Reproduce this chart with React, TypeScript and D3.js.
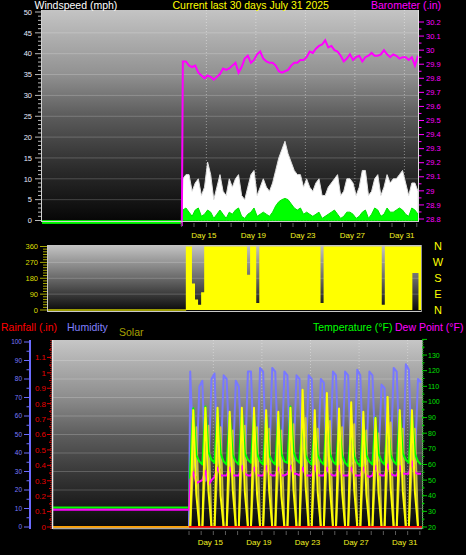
import React, { useRef, useEffect } from 'react';
import * as d3 from 'd3';

type Pt = [number, number];

const WIDTH = 466;
const HEIGHT = 555;
const FONT = "'Liberation Sans', Arial, sans-serif";

// x axis is the fractional day of July across the 30 day window
const DAY_DOMAIN: [number, number] = [1.72, 32.18];
const DATA_START = 13.0; // station data begins here, flat lines before it
const FIRST_SAMPLE = 13.1;
const SAMPLE_STEP = 0.25; // one reading every 6 hours
const DAY_LABELS = [15, 19, 23, 27, 31];
const DAY_TICKS = [13, 14, 15, 16, 17, 18, 19, 20, 21, 22, 23, 24, 25, 26, 27, 28, 29, 30, 31, 32];

// tick labels
const WIND_TICKS = [0, 5, 10, 15, 20, 25, 30, 35, 40, 45, 50];
const BARO_TICKS = [28.8, 28.9, 29, 29.1, 29.2, 29.3, 29.4, 29.5, 29.6, 29.7, 29.8, 29.9, 30, 30.1, 30.2];
const DIR_TICKS = [0, 90, 180, 270, 360];
const COMPASS = ['N', 'E', 'S', 'W', 'N'];
const HUM_TICKS = [0, 10, 20, 30, 40, 50, 60, 70, 80, 90, 100];
const RAIN_TICKS = [0, 0.1, 0.2, 0.3, 0.4, 0.5, 0.6, 0.7, 0.8, 0.9, 1, 1.1];
const TEMP_TICKS = [20, 30, 40, 50, 60, 70, 80, 90, 100, 110, 120, 130];

// values drawn before the data starts
const IDLE_GUST = 0;
const IDLE_AVG = -0.7;
const IDLE_BARO = 28.5;
const IDLE_HUM = 0;
const IDLE_TEMP = 32.5;
const IDLE_DEW = 31;
const IDLE_SOLAR = 0;

// wind gust (mph), 6-hourly
const GUST = [
  10, 11, 11, 7, 9, 10, 6, 8, 14, 11,
  5, 8, 11, 7, 6, 10, 8, 10, 11, 6,
  5, 8, 11, 12, 6, 8, 10, 8, 7, 9,
  12, 15, 17, 19, 16, 14, 12, 11, 11, 8,
  10, 8, 7, 9, 10, 6, 6, 8, 9, 10,
  11, 6, 7, 10, 10, 9, 6, 8, 12, 12,
  6, 7, 10, 11, 6, 8, 11, 9, 10, 10,
  11, 12, 9, 6, 9, 9, 7,
];

// average wind (mph)
const WIND_AVG = [
  2.5, 3, 2, 1, 2.5, 3, 1, 1.5, 2.5, 2,
  0.5, 1.5, 2.5, 1.5, 0.5, 2, 1.5, 2.5, 3, 1,
  0.5, 1.5, 2, 3, 1, 1.5, 2, 1.5, 1, 2,
  3.5, 4.5, 5, 5.3, 5, 4, 3, 2.5, 3, 1.5,
  2, 1.5, 1, 1.5, 2, 0.5, 1, 1.5, 2, 2.5,
  1.5, 0.5, 1, 2, 2, 1.5, 0.5, 1, 2, 2.5,
  0.5, 1.5, 3, 2.5, 1, 1.5, 3, 2, 2, 2.5,
  3, 2.5, 1.5, 1, 3, 2.5, 1.5,
];

// barometer (in)
const BARO = [
  29.92, 29.92, 29.89, 29.88, 29.89, 29.84, 29.82, 29.80, 29.82, 29.81,
  29.79, 29.81, 29.83, 29.87, 29.86, 29.87, 29.89, 29.91, 29.84, 29.88,
  29.94, 29.96, 29.91, 29.93, 29.97, 29.99, 29.94, 29.92, 29.91, 29.91,
  29.89, 29.85, 29.84, 29.85, 29.86, 29.89, 29.91, 29.91, 29.93, 29.93,
  29.95, 29.99, 29.98, 30.01, 30.03, 30.04, 30.07, 30.02, 30.03, 30.00,
  29.99, 29.96, 29.92, 29.94, 29.97, 29.93, 29.95, 29.96, 29.92, 29.95,
  29.96, 29.98, 29.96, 29.96, 29.97, 30.00, 29.97, 29.95, 29.97, 29.96,
  29.94, 29.95, 29.95, 29.93, 29.95, 29.89, 29.96,
];

// wind direction range seen in each 6 hour bin (degrees)
const DIR_LOW = [
  0, 0, 0, 0, 0, 0, 0, 0, 0, 0,
  0, 0, 0, 0, 0, 0, 0, 0, 0, 0,
  0, 0, 0, 0, 0, 0, 0, 0, 0, 0,
  0, 0, 0, 0, 0, 0, 0, 0, 0, 0,
  0, 0, 0, 0, 0, 0, 0, 0, 0, 0,
  0, 0, 0, 0, 0, 0, 0, 0, 0, 0,
  0, 0, 0, 0, 0, 0, 0, 0, 0, 0,
  0, 0, 0, 0, 210, 210, 0,
];
const DIR_HIGH = [
  360, 360, 150, 60, 30, 100, 360, 360, 360, 360,
  360, 360, 360, 360, 360, 360, 360, 360, 360, 360,
  200, 360, 360, 40, 360, 360, 360, 360, 360, 360,
  360, 360, 360, 360, 360, 360, 360, 360, 360, 360,
  360, 360, 360, 360, 40, 360, 360, 360, 360, 360,
  360, 360, 360, 360, 360, 360, 360, 360, 360, 360,
  360, 360, 360, 360, 30, 360, 360, 360, 360, 360,
  360, 360, 360, 360, 360, 360, 360,
];

// humidity (%)
const HUMIDITY = [
  84, 40, 28, 76, 79, 25, 30, 80, 83, 38,
  32, 82, 80, 36, 30, 79, 76, 35, 32, 84,
  84, 38, 33, 86, 84, 38, 34, 86, 84, 36,
  32, 84, 82, 34, 36, 82, 80, 32, 30, 82,
  80, 35, 33, 80, 78, 30, 32, 84, 82, 36,
  34, 84, 82, 34, 35, 85, 82, 36, 34, 84,
  82, 38, 36, 77, 75, 32, 34, 86, 84, 34,
  32, 88, 85, 33, 35, 80, 78,
];

// temperature (F)
const TEMP = [
  58, 96, 66, 62, 60, 97, 68, 63, 61, 95,
  67, 62, 60, 92, 66, 62, 60, 95, 67, 63,
  61, 93, 67, 62, 60, 92, 66, 62, 60, 92,
  67, 62, 61, 97, 68, 63, 61, 88, 66, 62,
  60, 86, 66, 62, 60, 94, 67, 62, 60, 86,
  66, 61, 59, 83, 65, 61, 59, 88, 66, 62,
  60, 90, 67, 62, 60, 88, 66, 62, 60, 94,
  67, 63, 61, 93, 67, 62, 60,
];

// dew point (F)
const DEW = [
  50, 55, 48, 49, 50, 56, 47, 50, 52, 58,
  53, 53, 53, 58, 53, 53, 53, 59, 54, 53,
  53, 58, 53, 53, 53, 59, 54, 53, 53, 58,
  53, 53, 54, 59, 54, 54, 53, 58, 53, 53,
  53, 59, 53, 53, 53, 58, 54, 53, 53, 59,
  53, 53, 53, 58, 53, 53, 53, 58, 53, 52,
  53, 59, 54, 53, 53, 60, 54, 53, 53, 59,
  54, 54, 54, 62, 55, 54, 54,
];

// solar radiation (W/m2), bright yellow trace
const SOLAR = [
  0, 750, 210, 0, 0, 765, 230, 0, 0, 765,
  200, 0, 0, 740, 240, 0, 0, 765, 220, 0,
  0, 765, 210, 0, 0, 750, 230, 0, 0, 740,
  200, 0, 0, 765, 240, 0, 0, 880, 260, 0,
  0, 750, 220, 0, 0, 860, 250, 0, 0, 760,
  230, 0, 0, 800, 240, 0, 0, 740, 210, 0,
  0, 700, 220, 0, 0, 835, 250, 0, 0, 750,
  230, 0, 0, 750, 220, 0, 0,
];

// solar, olive trace
const SOLAR_AVG = [
  0, 420, 640, 0, 0, 430, 650, 0, 0, 420,
  640, 0, 0, 400, 620, 0, 0, 430, 650, 0,
  0, 420, 640, 0, 0, 410, 630, 0, 0, 400,
  620, 0, 0, 430, 660, 0, 0, 470, 700, 0,
  0, 410, 630, 0, 0, 450, 680, 0, 0, 420,
  640, 0, 0, 440, 660, 0, 0, 400, 620, 0,
  0, 390, 600, 0, 0, 450, 670, 0, 0, 410,
  630, 0, 0, 410, 630, 0, 0,
];

// daily rainfall (in), July 13 onwards
const RAIN_DAILY = [0, 0, 0, 0, 0, 0, 0, 0, 0, 0, 0, 0, 0, 0, 0, 0, 0, 0, 0, 0, 0];

interface DirBin { t: number; lo: number; hi: number; }

const App: React.FC = () => {
  const svgRef = useRef<SVGSVGElement>(null);

  useEffect(() => {
    if (!svgRef.current) return;
    const svg = d3.select(svgRef.current);
    svg.selectAll('*').remove();

    svg.append('rect').attr('width', WIDTH).attr('height', HEIGHT).attr('fill', '#000');
    const defs = svg.append('defs');

    const gradient = (id: string, stops: [number, string][]) => {
      const g = defs.append('linearGradient').attr('id', id)
        .attr('x1', 0).attr('y1', 0).attr('x2', 0).attr('y2', 1);
      stops.forEach(([o, c]) => g.append('stop').attr('offset', o).attr('stop-color', c));
    };
    const clip = (id: string, x: number, y: number, w: number, h: number) => {
      defs.append('clipPath').attr('id', id).append('rect')
        .attr('x', x).attr('y', y).attr('width', w).attr('height', h);
    };
    const label = (x: number, y: number, str: string, color: string, size: number, anchor = 'start', dy = '0') =>
      svg.append('text')
        .attr('x', x).attr('y', y).attr('dy', dy)
        .attr('fill', color).attr('font-size', size).attr('font-family', FONT)
        .attr('text-anchor', anchor).text(str);
    const hline = (x1: number, x2: number, y: number, color: string, opacity = 1, width = 1) =>
      svg.append('line').attr('x1', x1).attr('x2', x2).attr('y1', y).attr('y2', y)
        .attr('stroke', color).attr('stroke-opacity', opacity).attr('stroke-width', width);
    const vline = (x: number, y1: number, y2: number, color: string, opacity = 1, width = 1, dash = '') =>
      svg.append('line').attr('x1', x).attr('x2', x).attr('y1', y1).attr('y2', y2)
        .attr('stroke', color).attr('stroke-opacity', opacity).attr('stroke-width', width)
        .attr('stroke-dasharray', dash || null);

    const series = (values: number[], idle: number): Pt[] => [
      [DAY_DOMAIN[0], idle],
      [DATA_START, idle],
      ...values.map((v, i): Pt => [FIRST_SAMPLE + i * SAMPLE_STEP, v]),
    ];

    gradient('gTop', [[0, '#c4c4c4'], [0.3, '#929292'], [0.5, '#5c5c5c'], [0.75, '#2c2c2c'], [1, '#060606']]);
    gradient('gMid', [[0, '#c4c4c4'], [0.5, '#6a6a6a'], [1, '#0a0a0a']]);
    gradient('gBot', [[0, '#c6c6c6'], [0.3, '#8e8e8e'], [0.5, '#5e5e5e'], [0.72, '#363636'], [1, '#080808']]);

    // ---------------- top panel: wind speed + barometer ----------------
    const top = { x0: 42, x1: 419, y0: 10, y1: 221 };
    const xTop = d3.scaleLinear().domain(DAY_DOMAIN).range([top.x0, top.x1]);
    const yWind = d3.scaleLinear().domain([0, 50]).range([220.5, 12]);
    const yBaro = d3.scaleLinear().domain([28.8, 30.2]).range([219, 22]);
    clip('cTop', top.x0, top.y0, top.x1 - top.x0, 226 - top.y0);

    svg.append('rect').attr('x', top.x0).attr('y', top.y0)
      .attr('width', top.x1 - top.x0).attr('height', top.y1 - top.y0).attr('fill', 'url(#gTop)');
    WIND_TICKS.filter(v => v > 0 && v < 50).forEach(v => hline(top.x0, top.x1, yWind(v), '#fff', 0.2));
    DAY_LABELS.forEach(d => vline(xTop(d), top.y0, top.y1, '#fff', 0.4, 1, '1,2'));

    const gTop = svg.append('g').attr('clip-path', 'url(#cTop)');
    const windArea = d3.area<Pt>().x(d => xTop(d[0])).y0(yWind(0)).y1(d => yWind(d[1]));
    gTop.append('path').datum(series(GUST, IDLE_GUST)).attr('d', windArea)
      .attr('fill', '#fff').attr('stroke', '#e0e0e0').attr('stroke-width', 1);
    gTop.append('path').datum(series(WIND_AVG, IDLE_AVG)).attr('d', windArea)
      .attr('fill', '#00ff00').attr('stroke', '#00e000').attr('stroke-width', 1);
    const baroLine = d3.line<Pt>().x(d => xTop(d[0])).y(d => yBaro(d[1]));
    gTop.append('path').datum(series(BARO, IDLE_BARO)).attr('d', baroLine)
      .attr('fill', 'none').attr('stroke', '#ff00ff').attr('stroke-width', 2);

    vline(top.x0 - 0.5, top.y0, top.y1 + 1, '#d0d0d0');
    vline(top.x1 - 0.5, top.y0, top.y1 + 1, '#e0e0e0');
    hline(top.x0, top.x1, top.y1 + 0.5, '#d0d0d0');

    d3.range(0, 51, 1).forEach(v => {
      const major = v % 5 === 0;
      svg.append('line').attr('x1', major ? 35 : 38).attr('x2', 41)
        .attr('y1', yWind(v)).attr('y2', yWind(v)).attr('stroke', '#b8b8b8');
    });
    WIND_TICKS.forEach(v => label(32, yWind(v), String(v), '#e6ebff', 7.5, 'end', '0.36em'));

    d3.range(28.8, 30.21, 0.05).forEach((v, i) => {
      svg.append('line').attr('x1', 419).attr('x2', i % 2 === 0 ? 424 : 421.5)
        .attr('y1', yBaro(v)).attr('y2', yBaro(v)).attr('stroke', '#ff00ff');
    });
    BARO_TICKS.forEach(v => label(426, yBaro(v), String(v), '#ff00ff', 7.5, 'start', '0.36em'));

    DAY_TICKS.forEach(d => vline(xTop(d), 223, 227, '#5a5a5a'));
    DAY_LABELS.forEach(d => label(xTop(d) - 2.5, 238, `Day ${d}`, '#f0f020', 8, 'middle'));

    label(34.5, 9.3, 'Windspeed (mph)', '#ffffff', 10.5);
    label(172.5, 9.3, 'Current last 30 days July 31 2025', '#ffff00', 10.5);
    label(371, 9.3, 'Barometer (.in)', '#ff00ff', 10.5);

    // ---------------- middle panel: wind direction ----------------
    const mid = { x0: 48, x1: 421, y0: 245, y1: 311 };
    const xMid = d3.scaleLinear().domain(DAY_DOMAIN).range([mid.x0, mid.x1]);
    const yDir = d3.scaleLinear().domain([0, 360]).range([310, 246.5]);
    clip('cMid', mid.x0, mid.y0, mid.x1 - mid.x0, mid.y1 - mid.y0);

    svg.append('rect').attr('x', mid.x0).attr('y', mid.y0)
      .attr('width', mid.x1 - mid.x0).attr('height', mid.y1 - mid.y0).attr('fill', 'url(#gMid)');
    [90, 180, 270].forEach(v => hline(mid.x0, mid.x1, yDir(v), '#fff', 0.2));

    const gMid = svg.append('g').attr('clip-path', 'url(#cMid)');
    gMid.append('line')
      .attr('x1', xMid(DAY_DOMAIN[0])).attr('x2', xMid(DATA_START))
      .attr('y1', yDir(0)).attr('y2', yDir(0))
      .attr('stroke', '#c8c800').attr('stroke-width', 1.5);

    // each bin spans half a step either side of its sample time
    const bins: DirBin[] = DIR_HIGH.map((hi, i) => ({
      t: FIRST_SAMPLE + i * SAMPLE_STEP - SAMPLE_STEP / 2, lo: DIR_LOW[i], hi,
    }));
    const last = bins[bins.length - 1];
    bins.push({ ...last, t: last.t + SAMPLE_STEP });
    const dirArea = d3.area<DirBin>()
      .curve(d3.curveStepAfter)
      .x(d => xMid(d.t))
      .y0(d => yDir(d.lo))
      .y1(d => yDir(d.hi));
    gMid.append('path').datum(bins).attr('d', dirArea).attr('fill', '#ffff00');

    vline(mid.x0 - 0.5, mid.y0, mid.y1 + 1, '#c8c8c8');
    vline(mid.x1 + 0.5, mid.y0, mid.y1 + 1, '#909090');
    hline(mid.x0, mid.x1, mid.y1 + 0.5, '#c8c8c8');

    d3.range(0, 361, 15).forEach(v => {
      const major = v % 90 === 0;
      svg.append('line').attr('x1', major ? 40 : 43).attr('x2', 47)
        .attr('y1', yDir(v)).attr('y2', yDir(v)).attr('stroke', '#a8a800');
    });
    DIR_TICKS.forEach(v => label(38, yDir(v), String(v), '#dede00', 7.5, 'end', '0.36em'));
    DIR_TICKS.forEach((v, i) => label(438, yDir(v), COMPASS[i], '#ffff00', 11, 'middle', '0.36em'));

    // ---------------- bottom panel: rain, humidity, solar, temp, dew ----------------
    const bot = { x0: 53, x1: 422, y0: 340, y1: 528 };
    const xBot = d3.scaleLinear().domain(DAY_DOMAIN).range([52, 422]);
    const yHum = d3.scaleLinear().domain([0, 100]).range([527, 342]);
    const yRain = d3.scaleLinear().domain([0, 1.2]).range([527, 342]);
    const yTemp = d3.scaleLinear().domain([20, 140]).range([527, 339.4]);
    const ySolar = d3.scaleLinear().domain([0, 1200]).range([527, 340]);
    clip('cBot', bot.x0, bot.y0, bot.x1 - bot.x0, 530 - bot.y0);

    svg.append('rect').attr('x', bot.x0).attr('y', bot.y0)
      .attr('width', bot.x1 - bot.x0).attr('height', bot.y1 - bot.y0).attr('fill', 'url(#gBot)');
    HUM_TICKS.filter(v => v > 0 && v < 100).forEach(v => hline(bot.x0, bot.x1, yHum(v), '#fff', 0.2));
    DAY_LABELS.forEach(d => vline(xBot(d), bot.y0, bot.y1, '#fff', 0.35, 1, '1,2'));

    const gBot = svg.append('g').attr('clip-path', 'url(#cBot)');
    const path = (data: Pt[], y: d3.ScaleLinear<number, number>, color: string, width = 2) =>
      gBot.append('path').datum(data)
        .attr('d', d3.line<Pt>().x(d => xBot(d[0])).y(d => y(d[1])))
        .attr('fill', 'none').attr('stroke', color).attr('stroke-width', width)
        .attr('stroke-linejoin', 'round');

    path(series(HUMIDITY, IDLE_HUM), yHum, '#7878ff');
    path(series(SOLAR_AVG, IDLE_SOLAR), ySolar, '#c8c040');
    path(series(TEMP, IDLE_TEMP), yTemp, '#00ff00');
    path(series(DEW, IDLE_DEW), yTemp, '#ff00ff');
    path(series(SOLAR, IDLE_SOLAR), ySolar, '#ffff00');
    path([[DAY_DOMAIN[0], RAIN_DAILY[0]], [DATA_START, RAIN_DAILY[0]]], yRain, '#ffa000');
    path(RAIN_DAILY.map((v, i): Pt => [DATA_START + i, v]), yRain, '#ff0000');

    vline(bot.x0 - 0.5, bot.y0, bot.y1 + 1, '#e8e8e8', 1, 1.5);
    vline(bot.x1 + 0.5, bot.y0, bot.y1 + 1, '#909090');
    hline(bot.x0, bot.x1, bot.y1 + 0.5, '#a8a8a8', 1, 1.5);

    // humidity axis (blue)
    vline(30, 340, 529, '#6c6cff', 1, 2);
    d3.range(0, 101, 5).forEach(v => {
      svg.append('line').attr('x1', v % 10 === 0 ? 24 : 26.5).attr('x2', 29)
        .attr('y1', yHum(v)).attr('y2', yHum(v)).attr('stroke', '#6c6cff');
    });
    HUM_TICKS.forEach(v => label(22, yHum(v), String(v), '#7b7bff', 6.5, 'end', '0.36em'));

    // rainfall axis (red)
    vline(51, 340, 529, '#ff2020', 1, 1, '1,1');
    d3.range(0, 1.16, 0.05).forEach((v, i) => {
      svg.append('line').attr('x1', i % 2 === 0 ? 47 : 49).attr('x2', 51)
        .attr('y1', yRain(v)).attr('y2', yRain(v)).attr('stroke', '#e00000');
    });
    RAIN_TICKS.forEach(v => label(46, yRain(v), String(v), '#e80000', 8, 'end', '0.36em'));

    // temperature axis (green)
    vline(423, 340, 529, '#00c000', 1, 1, '1,1');
    d3.range(20, 141, 5).forEach(v => {
      svg.append('line').attr('x1', 422).attr('x2', v % 10 === 0 ? 427 : 424.5)
        .attr('y1', yTemp(v)).attr('y2', yTemp(v)).attr('stroke', '#00d000');
    });
    TEMP_TICKS.forEach(v => label(428, yTemp(v), String(v), '#00e000', 7, 'start', '0.36em'));

    DAY_TICKS.forEach(d => vline(xBot(d), 531, 535, '#5a5a5a'));
    DAY_LABELS.forEach(d => label(xBot(d) - 3, 545, `Day ${d}`, '#f0f020', 8, 'middle'));

    label(1, 330.5, 'Rainfall (.in)', '#ff0000', 10.5);
    label(67, 330.5, 'Humidity', '#8080ff', 10.5);
    label(119, 335.5, 'Solar', '#a8a000', 10.5);
    label(313, 330.5, 'Temperature (°F)', '#00ff00', 10.5);
    label(395, 330.5, 'Dew Point (°F)', '#ff00ff', 10.5);
  }, []);

  return (
    <svg
      ref={svgRef}
      width={WIDTH}
      height={HEIGHT}
      style={{ position: 'absolute', left: 0, top: 0, display: 'block' }}
      viewBox={`0 0 ${WIDTH} ${HEIGHT}`}
    />
  );
};

export default App;
